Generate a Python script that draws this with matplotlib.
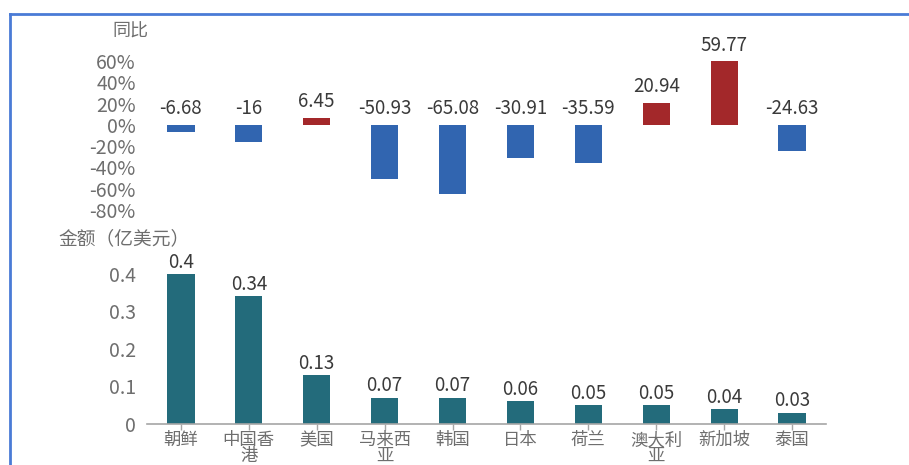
import matplotlib
matplotlib.use("Agg")
import matplotlib.pyplot as plt
from matplotlib.lines import Line2D

plt.rcParams['font.family'] = ['Noto Sans CJK SC', 'DejaVu Sans']

# 国家/地区
countries = ['朝鲜', '中国香\n港', '美国', '马来西\n亚', '韩国', '日本', '荷兰', '澳大利\n亚', '新加坡', '泰国']
# 同比 (%)
yoy = [-6.68, -16, 6.45, -50.93, -65.08, -30.91, -35.59, 20.94, 59.77, -24.63]
yoy_labels = ['-6.68', '-16', '6.45', '-50.93', '-65.08', '-30.91', '-35.59', '20.94', '59.77', '-24.63']
# 金额 (亿美元)
amount = [0.4, 0.34, 0.13, 0.07, 0.07, 0.06, 0.05, 0.05, 0.04, 0.03]
amount_labels = ['0.4', '0.34', '0.13', '0.07', '0.07', '0.06', '0.05', '0.05', '0.04', '0.03']
yoy_ticks = [60, 40, 20, 0, -20, -40, -60, -80]

blue = '#3165B0'
red = '#A3282A'
teal = '#236B7B'
tick_gray = '#6E6E6E'
label_dark = '#3A3A3A'

fig = plt.figure(figsize=(9.09, 4.65), dpi=100)
fig.patch.set_facecolor('white')

x = list(range(len(countries)))

# 上图: 同比
ax1 = fig.add_axes([0.1617, 0.5484, 0.747, 0.3204])
colors = [red if v > 0 else blue for v in yoy]
ax1.bar(x, yoy, width=0.4, color=colors)
ax1.set_xlim(-0.5, 9.5)
ax1.set_ylim(-80, 60)
ax1.set_yticks(yoy_ticks)
ax1.set_yticklabels([f'{t}%' for t in yoy_ticks])
ax1.tick_params(axis='y', length=0, pad=8, labelsize=14, labelcolor=tick_gray)
ax1.set_xticks([])
for s in ax1.spines.values():
    s.set_visible(False)
for i, (v, lab) in enumerate(zip(yoy, yoy_labels)):
    ax1.annotate(lab, (i, max(v, 0)), xytext=(0, 4), textcoords='offset points',
                 ha='center', va='bottom', fontsize=13.5, color=label_dark,
                 annotation_clip=False)
fig.text(0.143, 0.932, '同比', ha='center', va='center', fontsize=13, color=tick_gray)

# 下图: 金额
ax2 = fig.add_axes([0.1617, 0.0882, 0.747, 0.3226])
ax2.bar(x, amount, width=0.4, color=teal)
ax2.set_xlim(-0.5, 9.5)
ax2.set_ylim(0, 0.4)
ax2.set_yticks([0, 0.1, 0.2, 0.3, 0.4])
ax2.set_yticklabels(['0', '0.1', '0.2', '0.3', '0.4'])
ax2.tick_params(axis='y', length=0, pad=8, labelsize=14, labelcolor=tick_gray)
ax2.set_xticks(x)
ax2.set_xticklabels(countries, linespacing=0.88)
ax2.tick_params(axis='x', length=4, width=1, color='#A6A6A6', pad=1,
                labelsize=12.5, labelcolor=tick_gray)
for k in ['top', 'right', 'left']:
    ax2.spines[k].set_visible(False)
ax2.spines['bottom'].set_color('#A6A6A6')
ax2.spines['bottom'].set_linewidth(1.2)
for i, (v, lab) in enumerate(zip(amount, amount_labels)):
    ax2.annotate(lab, (i, v), xytext=(0, 1), textcoords='offset points',
                 ha='center', va='bottom', fontsize=13.5, color=label_dark,
                 annotation_clip=False)
fig.text(0.064, 0.486, '金额（亿美元）', ha='left', va='center', fontsize=13.5, color=tick_gray)

# 外框
fig.add_artist(Line2D([0.011, 1.0], [0.970, 0.970], color='#4A7BD6', lw=2))
fig.add_artist(Line2D([0.011, 0.011], [0.0, 0.970], color='#4A7BD6', lw=2))

fig.savefig('out.png', dpi=100)
